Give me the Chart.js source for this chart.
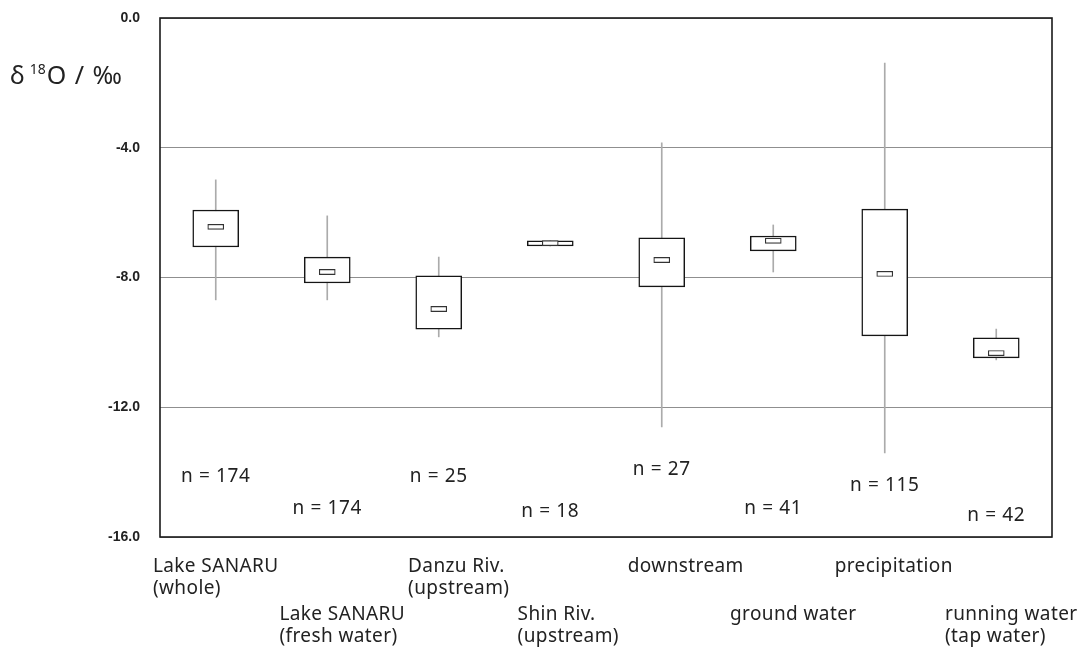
<!DOCTYPE html>
<html>
<head>
<meta charset="utf-8">
<script src="https://cdn.jsdelivr.net/npm/chart.js@4.4.1/dist/chart.umd.min.js"></script>
<style>
  html, body { margin: 0; padding: 0; background: #fff; }
  #wrap { width: 1084px; height: 657px; }
</style>
</head>
<body>
<div id="wrap"><canvas id="isoChart"></canvas></div>
<script>
// sampling sites (label lines)
const categories = [
    ['Lake SANARU', '(whole)'],
    ['Lake SANARU', '(fresh water)'],
    ['Danzu Riv.', '(upstream)'],
    ['Shin Riv.', '(upstream)'],
    ['downstream'],
    ['ground water'],
    ['precipitation'],
    ['running water', '(tap water)']
];

// δ18O (‰)
const whiskerMin = [-8.69, -8.69, -9.83, -7.03, -12.61, -7.83, -13.41, -10.54];
const whiskerMax = [-4.99, -6.10, -7.37, -6.87, -3.85, -6.38, -1.39, -9.59];
const boxLow     = [-7.06, -8.17, -9.59, -7.03, -8.29, -7.18, -9.80, -10.48];
const boxHigh    = [-5.92, -7.37, -7.95, -6.87, -6.78, -6.72, -5.89, -9.86];
const medians    = [-6.44, -7.83, -8.97, -6.94, -7.46, -6.87, -7.89, -10.33];
const sampleSizes = [174, 174, 25, 18, 27, 41, 115, 42];

const yTicks = [0, -4, -8, -12, -16];

// layout only: where the "n =" notes sit and how the site names are nudged
const countLabelLevel = [-14.15, -15.13, -14.15, -15.23, -13.93, -15.13, -14.43, -15.35];
const labelShift = [0, 15, 20, 18, 24, 20, 9, 15];

const textFont = '"Noto Sans", "Open Sans", sans-serif';

const framePlugin = {
    id: 'frame',
    beforeDatasetsDraw(chart) {
        const { ctx, chartArea: a } = chart;
        ctx.save();
        ctx.strokeStyle = '#1a1a1a';
        ctx.lineWidth = 1.6;
        ctx.strokeRect(a.left, a.top, a.right - a.left, a.bottom - a.top);
        ctx.restore();
    }
};

const notesPlugin = {
    id: 'notes',
    afterDatasetsDraw(chart) {
        const { ctx } = chart;
        const xs = chart.scales.x;
        const ys = chart.scales.y;
        ctx.save();
        ctx.fillStyle = '#222';
        ctx.letterSpacing = '0.6px';

        // n = ... inside the plot
        ctx.font = '19px ' + textFont;
        ctx.textAlign = 'center';
        ctx.textBaseline = 'middle';
        sampleSizes.forEach((n, i) => {
            ctx.fillText('n = ' + n, xs.getPixelForValue(i), ys.getPixelForValue(countLabelLevel[i]));
        });

        // site names, staggered in two rows, lines left aligned
        ctx.letterSpacing = '0.4px';
        ctx.textAlign = 'left';
        ctx.textBaseline = 'alphabetic';
        categories.forEach((lines, i) => {
            const w = Math.max(...lines.map(l => ctx.measureText(l).width));
            const left = xs.getPixelForValue(i) - w / 2 + labelShift[i];
            const base = i % 2 === 0 ? 572 : 620;
            lines.forEach((l, k) => ctx.fillText(l, left, base + k * 22));
        });

        // axis title  δ18O / ‰
        ctx.letterSpacing = '0px';
        ctx.font = '25px ' + textFont;
        let x = 10;
        const y = 84;
        ctx.fillText('δ', x, y);
        x += ctx.measureText('δ').width + 5;
        ctx.font = '14px ' + textFont;
        ctx.fillText('18', x, y - 10);
        x += ctx.measureText('18').width + 1;
        ctx.font = '25px ' + textFont;
        ctx.letterSpacing = '1px';
        ctx.fillText('O / ‰', x, y);
        ctx.restore();
    }
};

document.addEventListener('DOMContentLoaded', () => {
    const ctx = document.getElementById('isoChart').getContext('2d');
    new Chart(ctx, {
        type: 'bar',
        data: {
            labels: categories.map(c => c.join(' ')),
            datasets: [
                {
                    label: 'median',
                    data: medians.map(m => [m - 0.08, m + 0.08]),
                    backgroundColor: '#ffffff',
                    borderColor: '#333',
                    borderWidth: 1.2,
                    borderSkipped: false,
                    barThickness: 16,
                    grouped: false,
                    order: 0
                },
                {
                    label: 'quartiles',
                    data: boxLow.map((v, i) => [v, boxHigh[i]]),
                    backgroundColor: '#ffffff',
                    borderColor: '#151515',
                    borderWidth: 1.5,
                    borderSkipped: false,
                    barThickness: 46,
                    grouped: false,
                    order: 1
                },
                {
                    label: 'range',
                    data: whiskerMin.map((v, i) => [v, whiskerMax[i]]),
                    backgroundColor: '#ababab',
                    borderWidth: 0,
                    barThickness: 1,
                    grouped: false,
                    order: 2
                }
            ]
        },
        options: {
            responsive: true,
            maintainAspectRatio: false,
            animation: false,
            layout: { padding: { left: 0, top: 18, right: 32, bottom: 0 } },
            plugins: {
                legend: { display: false },
                tooltip: { enabled: false }
            },
            scales: {
                x: {
                    ticks: { display: false },
                    grid: { display: false },
                    border: { display: false },
                    afterFit: scale => { scale.height = 120; }
                },
                y: {
                    min: -16,
                    max: 0,
                    afterBuildTicks: scale => { scale.ticks = yTicks.map(v => ({ value: v })); },
                    ticks: {
                        padding: 20,
                        color: '#222',
                        font: { family: '"Liberation Sans", Arial, sans-serif', size: 14, weight: 'bold' },
                        callback: v => v.toFixed(1)
                    },
                    grid: { color: '#8f8f8f', lineWidth: 1, drawTicks: false },
                    border: { display: false },
                    afterFit: scale => {
                        scale.width = 160;
                        scale.paddingTop = 0;
                        scale.paddingBottom = 0;
                    }
                }
            }
        },
        plugins: [framePlugin, notesPlugin]
    });
});
</script>
</body>
</html>
